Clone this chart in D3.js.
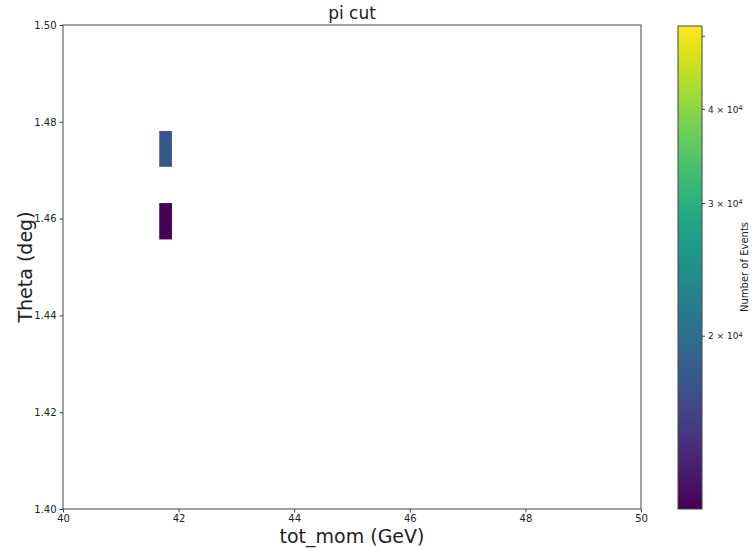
<!DOCTYPE html>
<html>
<head>
<meta charset="utf-8">
<title>pi cut</title>
<style>
    body { margin: 0; background: #fff; }
    svg text { font-family: "DejaVu Sans", sans-serif; fill: #222; }
</style>
</head>
<body>
<script src="https://cdn.jsdelivr.net/npm/d3@7"></script>
<script>
    var width = 755,
        height = 549;

    // 2D histogram cells that are visible (bin edges + counts)
    var momLo = [41.665, 41.665];
    var momHi = [41.885, 41.885];
    var thetaLo = [1.4707, 1.4557];
    var thetaHi = [1.4781, 1.4632];
    var counts = [17600, 11800];

    var xTicks = [40, 42, 44, 46, 48, 50];
    var yTicks = [1.40, 1.42, 1.44, 1.46, 1.48, 1.50];
    var cbTicks = [20000, 30000, 40000, 50000];
    var cbLabels = ['2', '3', '4', ''];
    var colorMin = 11800, colorMax = 51600;

    var plot = {left: 63, right: 641, top: 25, bottom: 509};
    var cb = {left: 678, right: 702, top: 26, bottom: 509};

    var x = d3.scaleLinear().domain([40, 50]).range([plot.left, plot.right]);
    var y = d3.scaleLinear().domain([1.40, 1.50]).range([plot.bottom, plot.top]);
    var c = d3.scaleLog().domain([colorMin, colorMax]).range([cb.bottom, cb.top]);
    var color = function (v) {
        return d3.interpolateViridis((Math.log(v) - Math.log(colorMin)) / (Math.log(colorMax) - Math.log(colorMin)));
    };

    var svg = d3.select('body').append('svg')
        .attr('width', width)
        .attr('height', height);

    // cells
    svg.selectAll('rect.cell')
        .data(counts)
        .enter().append('rect')
        .attr('class', 'cell')
        .attr('x', function (d, i) { return x(momLo[i]); })
        .attr('width', function (d, i) { return x(momHi[i]) - x(momLo[i]); })
        .attr('y', function (d, i) { return y(thetaHi[i]); })
        .attr('height', function (d, i) { return y(thetaLo[i]) - y(thetaHi[i]); })
        .attr('fill', color);

    // frame
    svg.append('rect')
        .attr('x', plot.left).attr('y', plot.top)
        .attr('width', plot.right - plot.left).attr('height', plot.bottom - plot.top)
        .attr('fill', 'none').attr('stroke', '#444').attr('stroke-width', 1);

    var xAxis = svg.append('g')
        .attr('transform', 'translate(0,' + plot.bottom + ')')
        .call(d3.axisBottom(x).tickValues(xTicks).tickSize(3.5).tickPadding(2).tickFormat(d3.format('d')));
    var yAxis = svg.append('g')
        .attr('transform', 'translate(' + plot.left + ',0)')
        .call(d3.axisLeft(y).tickValues(yTicks).tickSize(3.5).tickPadding(3).tickFormat(d3.format('.2f')));
    [xAxis, yAxis].forEach(function (a) {
        a.select('.domain').remove();
        a.selectAll('line').attr('stroke', '#444');
        a.selectAll('text').attr('font-size', 10).attr('fill', '#333')
            .attr('font-family', '"DejaVu Sans", sans-serif');
    });

    svg.append('text')
        .attr('x', (plot.left + plot.right) / 2).attr('y', 19)
        .attr('text-anchor', 'middle').attr('font-size', 17)
        .text('pi cut');
    svg.append('text')
        .attr('x', (plot.left + plot.right) / 2).attr('y', 543)
        .attr('text-anchor', 'middle').attr('font-size', 19)
        .text('tot_mom (GeV)');
    svg.append('text')
        .attr('transform', 'translate(32,' + (plot.top + plot.bottom) / 2 + ') rotate(-90)')
        .attr('text-anchor', 'middle').attr('font-size', 19)
        .text('Theta (deg)');

    // colorbar
    var grad = svg.append('defs').append('linearGradient')
        .attr('id', 'viridis')
        .attr('x1', 0).attr('y1', 1).attr('x2', 0).attr('y2', 0);
    grad.selectAll('stop')
        .data(d3.range(0, 1.0001, 0.05))
        .enter().append('stop')
        .attr('offset', function (d) { return d; })
        .attr('stop-color', function (d) { return d3.interpolateViridis(d); });

    svg.append('rect')
        .attr('x', cb.left).attr('y', cb.top)
        .attr('width', cb.right - cb.left).attr('height', cb.bottom - cb.top)
        .attr('fill', 'url(#viridis)').attr('stroke', '#444').attr('stroke-width', 1);

    var cbAxis = svg.append('g')
        .attr('transform', 'translate(' + cb.right + ',0)');
    var tk = cbAxis.selectAll('g').data(cbTicks).enter().append('g')
        .attr('transform', function (d) { return 'translate(0,' + c(d) + ')'; });
    tk.append('line').attr('x2', 3).attr('stroke', '#444');
    var lbl = tk.append('text')
        .attr('x', 6).attr('dy', '0.35em')
        .attr('font-size', 9).attr('fill', '#333');
    lbl.filter(function (d, i) { return cbLabels[i] !== ''; })
        .each(function (d, i) {
            var t = d3.select(this);
            t.append('tspan').text(cbLabels[cbTicks.indexOf(d)] + ' \u00d7 10');
            t.append('tspan').attr('dy', '-0.45em').attr('font-size', 6.5).text('4');
        });

    svg.append('text')
        .attr('transform', 'translate(748,' + 267 + ') rotate(-90)')
        .attr('text-anchor', 'middle').attr('font-size', 10)
        .text('Number of Events');
</script>
</body>
</html>
